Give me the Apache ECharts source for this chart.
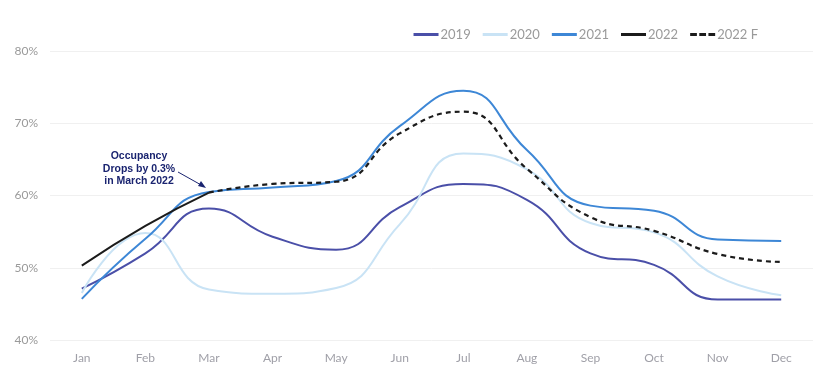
<!DOCTYPE html>
<html>
<head>
<meta charset="utf-8">
<script src="https://cdn.jsdelivr.net/npm/echarts@6/dist/echarts.min.js"></script>
<style>html,body{margin:0;padding:0;background:#fff}#c{width:813px;height:379px}</style>
</head>
<body>
<div id="c"></div>
<script>
const months = ['Jan','Feb','Mar','Apr','May','Jun','Jul','Aug','Sep','Oct','Nov','Dec'];
const yTicks = [40, 50, 60, 70, 80];
const s2019 = [47.1, 52.0, 58.2, 54.3, 52.5, 58.4, 61.6, 59.4, 52.0, 50.4, 45.6, 45.6];
const s2020 = [46.5, 54.8, 47.0, 46.4, 47.2, 56.0, 65.8, 63.6, 56.2, 54.9, 48.8, 46.2];
const s2021 = [45.7, 54.0, 60.5, 61.1, 62.0, 69.6, 74.5, 66.3, 58.6, 57.9, 53.9, 53.7];
const s2022 = [50.3, 55.8, 60.4, null, null, null, null, null, null, null, null, null];
const s2022F = [null, null, 60.4, 61.6, 61.9, 68.6, 71.6, 63.7, 57.0, 55.1, 51.9, 50.8];
const annotation = 'Occupancy\nDrops by 0.3%\nin March 2022';

const chart = echarts.init(document.getElementById('c'));
function line(name, data, color, dashed) {
  return {
    name, type: 'line', data, smooth: 0.5, symbol: 'none', showSymbol: false,
    lineStyle: { color, width: dashed ? 2.2 : 2, type: dashed ? [5, 4] : 'solid' },
    itemStyle: { color }
  };
}
const dashIcon = 'path://M0,0h7v3h-7z M9.5,0h7v3h-7z M19,0h7v3h-7z';
chart.setOption({
  animation: false,
  backgroundColor: '#fff',
  textStyle: { fontFamily: 'Lato' },
  grid: { left: 50, right: 0, top: 51, bottom: 39 },
  legend: {
    top: 23, right: 50, itemGap: 12, itemWidth: 25, itemHeight: 3,
    textStyle: { color: '#9a9a9a', fontSize: 13, fontFamily: 'Lato', padding: [0, 0, 0, -3] },
    data: [
      { name: '2019', icon: 'rect' },
      { name: '2020', icon: 'rect' },
      { name: '2021', icon: 'rect' },
      { name: '2022', icon: 'rect' },
      { name: '2022 F', icon: dashIcon }
    ]
  },
  xAxis: {
    type: 'category', data: months, boundaryGap: true,
    axisLine: { show: false }, axisTick: { show: false },
    axisLabel: { color: '#a0a0a8', fontSize: 12, margin: 12 }
  },
  yAxis: {
    type: 'value', min: yTicks[0], max: yTicks[yTicks.length - 1], interval: 10,
    axisLine: { show: false }, axisTick: { show: false },
    axisLabel: { color: '#9a9a9a', fontSize: 12, margin: 12, formatter: v => v + '%' },
    splitLine: { lineStyle: { color: '#f0f0f0', width: 1 } }
  },
  series: [
    line('2019', s2019, '#4a4fa8', false),
    line('2020', s2020, '#c9e3f5', false),
    line('2021', s2021, '#3d87d6', false),
    line('2022', s2022, '#1b1b1b', false),
    line('2022 F', s2022F, '#1b1b1b', true)
  ],
  graphic: [
    { type: 'text', x: 139, y: 150,
      style: { text: annotation, fill: '#1a2470', font: 'bold 10.5px "Liberation Sans", Arial', align: 'center', verticalAlign: 'top', lineHeight: 12.5 } },
    { type: 'line', shape: { x1: 178, y1: 172, x2: 203, y2: 186 }, style: { stroke: '#1a2470', lineWidth: 1 } },
    { type: 'polygon', shape: { points: [[206, 188], [198, 186], [201, 181]] }, style: { fill: '#1a2470' } }
  ]
});
</script>
</body>
</html>
